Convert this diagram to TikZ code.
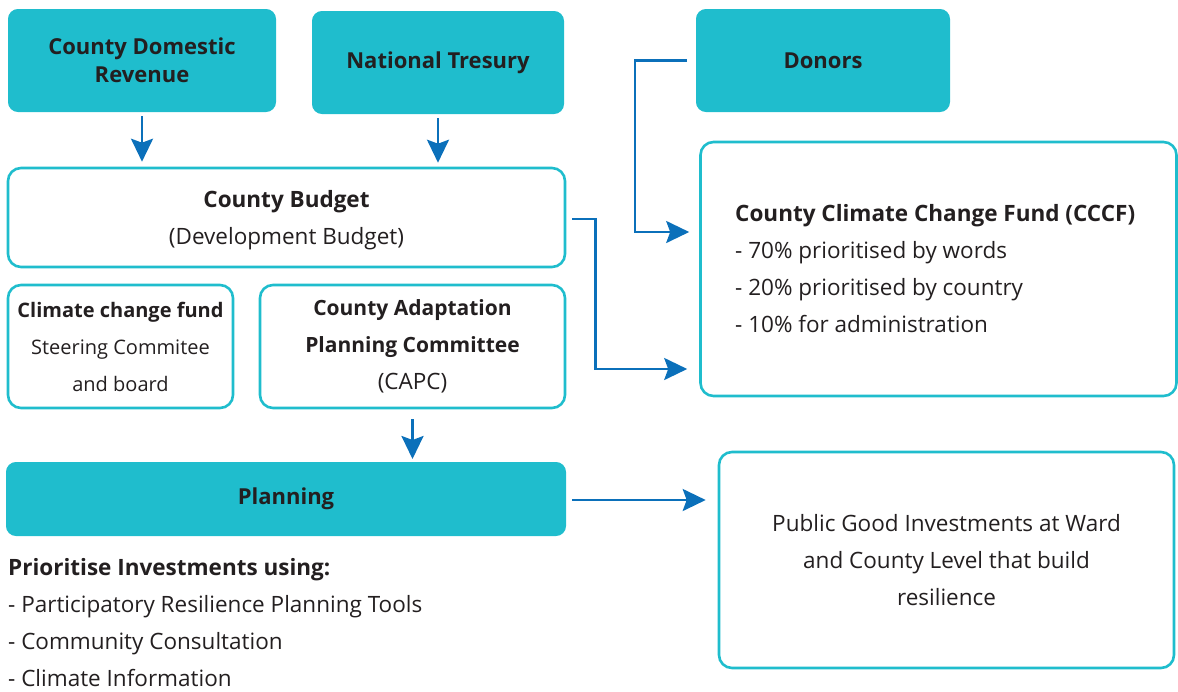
\documentclass[tikz,border=0pt]{standalone}
\usepackage{fontspec}
\setmainfont{Open Sans}
\usetikzlibrary{arrows.meta,positioning}
\definecolor{teal}{HTML}{1FBDCD}
\definecolor{arrblue}{HTML}{0B70BA}
\definecolor{txt}{HTML}{231F20}
\newcommand{\smallbold}{\fontsize{21}{37}\selectfont\bfseries}
\newcommand{\ccfsize}{\fontsize{20}{37}\selectfont}
\tikzset{
  fillbox/.style={draw=teal,fill=teal,line width=2pt,rounded corners=9pt,inner sep=0pt,text=txt,align=center,font=\fontsize{22}{28}\selectfont\bfseries},
  linebox/.style={draw=teal,fill=white,line width=2.6pt,rounded corners=13pt,inner sep=0pt,text=txt,align=center,font=\fontsize{22.5}{37}\selectfont},
  plaintext/.style={inner sep=0pt,text=txt,align=left,font=\fontsize{22.5}{37}\selectfont},
  arr/.style={draw=arrblue,line width=2.6pt,-{Stealth[length=23pt,width=22pt,inset=4pt]}},
}
\begin{document}
\begin{tikzpicture}[x=1pt,y=-1pt]
\useasboundingbox (0,0) rectangle (1178,691);
% filled boxes
\node[fillbox,minimum width=266,minimum height=101] (cdr) at (142,60.5) {County Domestic\\Revenue};
\node[fillbox,minimum width=250,minimum height=101] (nt) at (438,62.5) {National Tresury};
\node[fillbox,minimum width=252,minimum height=101] (don) at (823,60.5) {Donors};
\node[fillbox,minimum width=558,minimum height=72] (plan) at (286,499) {Planning};
% outlined boxes
\node[linebox,minimum width=557,minimum height=99] (bud) at (286.5,217.5) {};
\node[inner sep=0pt,text=txt,align=center,font=\fontsize{22.5}{37}\selectfont] (budtxt) at (286.5,220) {\textbf{County Budget}\\(Development Budget)};
\node[linebox,minimum width=476,minimum height=254] (cccf) at (938.5,269) {};
\node[plaintext,anchor=west] (cccftxt) at (735,269) {\textbf{County Climate Change Fund (CCCF)}\\- 70\% prioritised by words\\- 20\% prioritised by country\\- 10\% for administration};
\node[linebox,minimum width=225,minimum height=123] (ccf) at (120.5,346.5) {{\ccfsize\bfseries Climate change fund}\\{\ccfsize Steering Commitee}\\{\ccfsize and board}};
\node[linebox,minimum width=305,minimum height=123] (capc) at (412.5,346.5) {{\smallbold County Adaptation}\\{\smallbold Planning Committee}\\(CAPC)};
\node[linebox,minimum width=455,minimum height=216] (pg) at (946.5,560) {Public Good Investments at Ward\\and County Level that build\\resilience};
\node[plaintext,anchor=north west] (prio) at (8,558) {\textbf{Prioritise Investments using:}\\- Participatory Resilience Planning Tools\\- Community Consultation\\- Climate Information};
% connectors
\draw[arr,shorten <=4pt,shorten >=5pt] (cdr.south) -- (cdr.south |- bud.north);
\draw[arr,shorten <=4pt,shorten >=4pt] (nt.south) -- (nt.south |- bud.north);
\draw[arr,shorten <=9pt,shorten >=10pt] (don.west) -- ++(-61,0) |- (cccf.west |- 0,232);
\draw[arr,shorten <=6pt,shorten >=12pt] (bud.east |- 0,219) -- ++(29,0) |- (cccf.west |- 0,369);
\draw[arr,shorten <=10pt,shorten >=3pt] (capc.south) -- (capc.south |- plan.north);
\draw[arr,shorten <=6pt,shorten >=12pt] (plan.east |- 0,500) -- (pg.west |- 0,500);
\end{tikzpicture}
\end{document}
